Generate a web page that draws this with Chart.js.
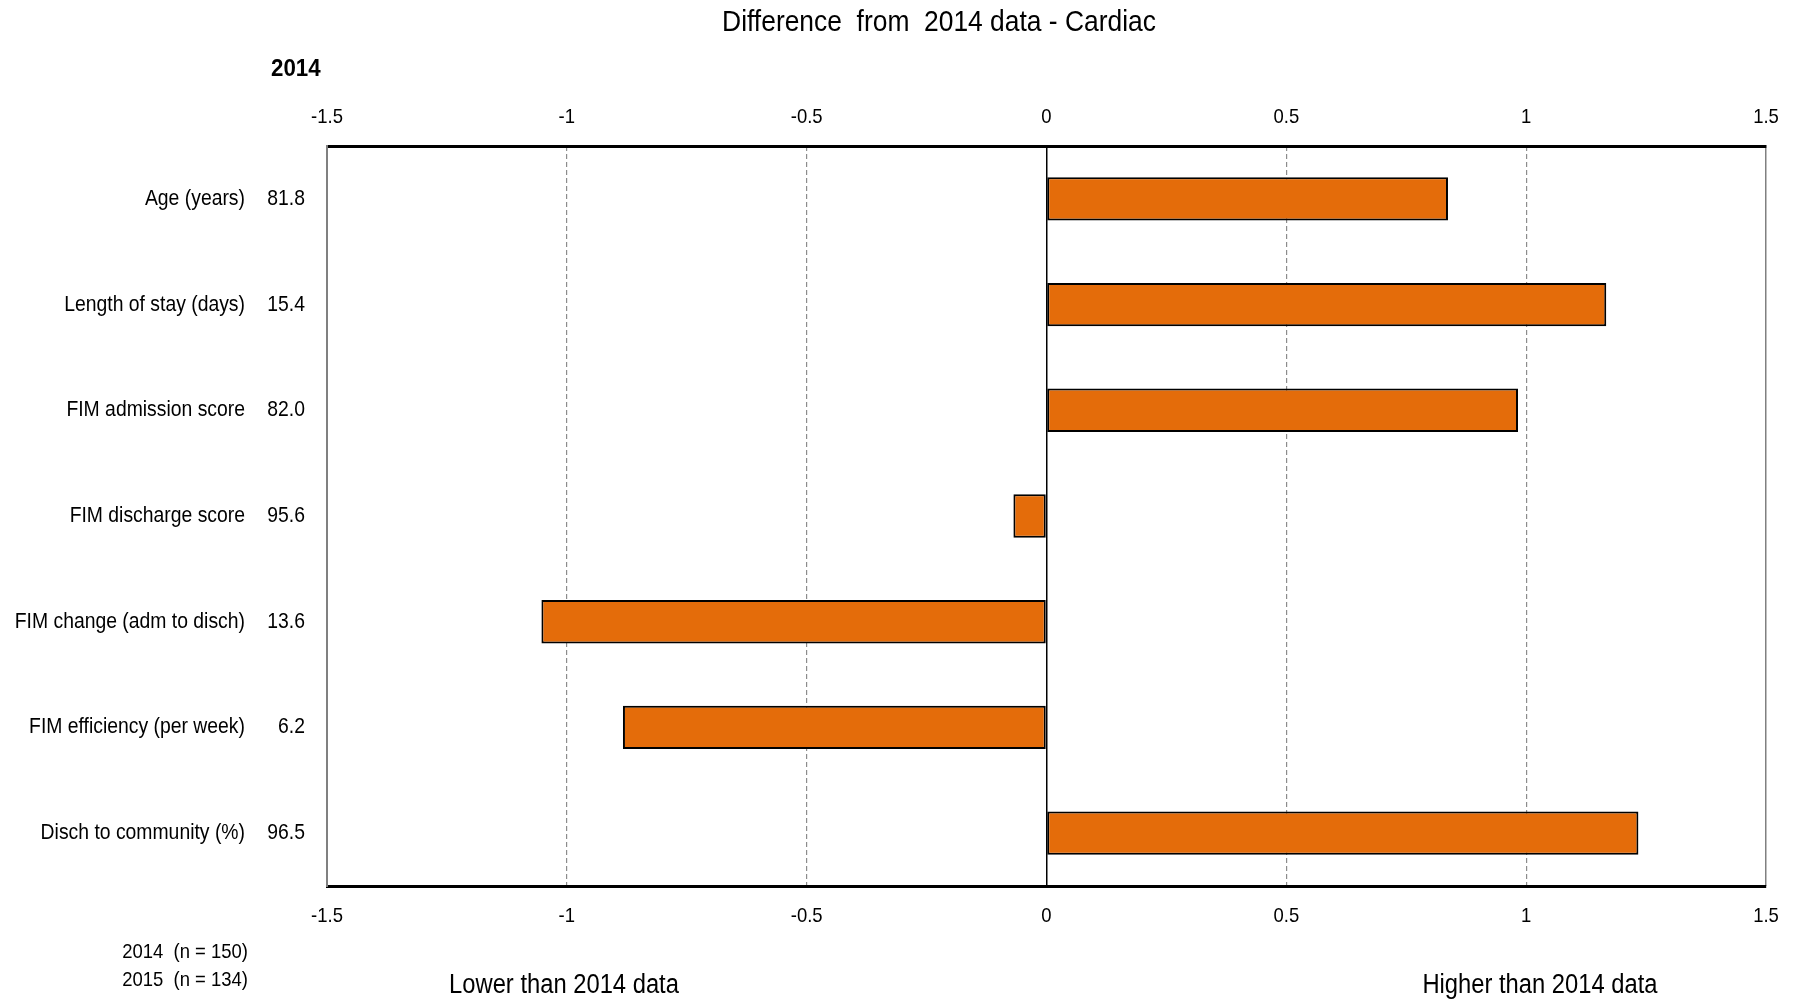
<!DOCTYPE html>
<html>
<head>
<meta charset="utf-8">
<script src="https://cdn.jsdelivr.net/npm/chart.js@4.4.1/dist/chart.umd.min.js"></script>
<style>
    html, body { margin: 0; padding: 0; background: #fff; }
    #wrap { width: 1800px; height: 1004px; }
</style>
</head>
<body>
<div id="wrap"><canvas id="myChart" width="1800" height="1004"></canvas></div>
<script>
const FONT = "'Liberation Sans', Arial, sans-serif"
// squeeze text horizontally to look like a narrow face
const SX = 0.88

const categories = [
    'Age (years)',
    'Length of stay (days)',
    'FIM admission score',
    'FIM discharge score',
    'FIM change (adm to disch)',
    'FIM efficiency (per week)',
    'Disch to community (%)'
]

// 2014 values printed next to each label
const values2014 = ['81.8', '15.4', '82.0', '95.6', '13.6', '6.2', '96.5']

// difference from 2014 data
const differences = [0.837, 1.167, 0.983, -0.069, -1.053, -0.883, 1.234]

const xTicks = [-1.5, -1, -0.5, 0, 0.5, 1, 1.5]

const sampleNotes = ['2014  (n = 150)', '2015  (n = 134)']

function narrowText(ctx, text, x, y, align, font, sx = SX) {
    ctx.save()
    ctx.font = font
    ctx.fillStyle = '#000'
    ctx.textAlign = align
    ctx.textBaseline = 'middle'
    ctx.translate(x, y)
    ctx.scale(sx, 1)
    ctx.fillText(text, 0, 0)
    ctx.restore()
}

const textPlugin = {
    id: 'texts',
    afterDraw(chart) {
        const ctx = chart.ctx
        const xScale = chart.scales.x
        const yScale = chart.scales.y

        narrowText(ctx, 'Difference  from  2014 data - Cardiac', 939, 23, 'center', `30px ${FONT}`)
        narrowText(ctx, '2014', 271, 70, 'left', `bold 23px ${FONT}`, 0.97)

        // tick labels, top and bottom
        xTicks.forEach(v => {
            const px = xScale.getPixelForValue(v)
            narrowText(ctx, String(v), px, 117, 'center', `21px ${FONT}`)
            narrowText(ctx, String(v), px, 916, 'center', `21px ${FONT}`)
        })

        // category names and 2014 values
        categories.forEach((name, i) => {
            const py = yScale.getPixelForValue(i)
            narrowText(ctx, name, 245, py, 'right', `22px ${FONT}`)
            narrowText(ctx, values2014[i], 305, py, 'right', `22px ${FONT}`)
        })

        narrowText(ctx, sampleNotes[0], 248, 952, 'right', `21px ${FONT}`)
        narrowText(ctx, sampleNotes[1], 248, 980, 'right', `21px ${FONT}`)

        narrowText(ctx, 'Lower than 2014 data', 564, 986, 'center', `27px ${FONT}`)
        narrowText(ctx, 'Higher than 2014 data', 1540, 986, 'center', `27px ${FONT}`)
    }
}

const ctx = document.getElementById('myChart')
new Chart(ctx, {
    type: 'bar',
    data: {
        labels: categories,
        datasets: [{
            data: differences,
            backgroundColor: '#E46C0A',
            borderColor: '#000',
            borderWidth: 2,
            borderSkipped: false,
            categoryPercentage: 1,
            barPercentage: 0.41
        }]
    },
    options: {
        indexAxis: 'y',
        responsive: false,
        animation: false,
        layout: { padding: { right: 34 } },
        plugins: {
            legend: { display: false },
            tooltip: { enabled: false }
        },
        scales: {
            x: {
                position: 'top',
                min: -1.5,
                max: 1.5,
                afterBuildTicks: scale => { scale.ticks = xTicks.map(v => ({ value: v })) },
                afterFit: scale => { scale.height = 146 },
                ticks: { display: false },
                grid: {
                    drawTicks: false,
                    color: c => {
                        const v = c.tick ? c.tick.value : null
                        if (v === 0) return '#000'
                        if (v === 1.5 || v === -1.5) return '#808080'
                        return 'rgba(0,0,0,0)'
                    },
                    lineWidth: 1.5
                },
                border: { color: '#000', width: 3 }
            },
            x2: {
                position: 'bottom',
                axis: 'x',
                min: -1.5,
                max: 1.5,
                afterBuildTicks: scale => { scale.ticks = xTicks.map(v => ({ value: v })) },
                afterFit: scale => { scale.height = 118 },
                ticks: { display: false },
                grid: {
                    drawTicks: false,
                    color: c => {
                        const v = c.tick ? c.tick.value : null
                        if (v === 0 || v === 1.5 || v === -1.5) return 'rgba(0,0,0,0)'
                        return '#8c8c8c'
                    },
                    lineWidth: 1.2
                },
                border: { color: '#000', width: 3, dash: [5, 3] }
            },
            y: {
                afterFit: scale => { scale.width = 327 },
                ticks: { display: false },
                grid: { display: false, drawTicks: false },
                border: { color: '#808080', width: 2 }
            }
        }
    },
    plugins: [textPlugin]
})
</script>
</body>
</html>
